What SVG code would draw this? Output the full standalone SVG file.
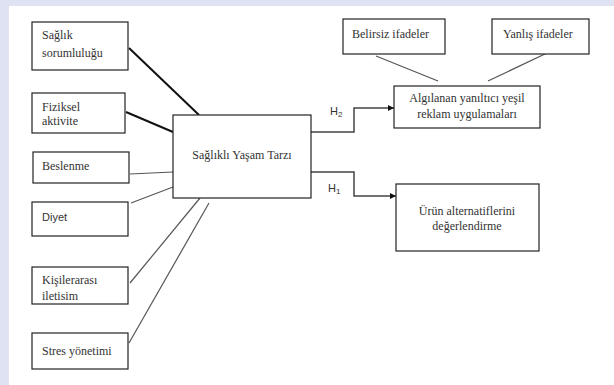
<svg xmlns="http://www.w3.org/2000/svg" width="614" height="385" viewBox="0 0 614 385">
<style>
.box{fill:#fff;stroke:#222;stroke-width:1.2}
text{font-family:'Liberation Serif','DejaVu Serif',serif;font-size:12px;fill:#333}
text.s{font-family:'Liberation Sans','DejaVu Sans',sans-serif;font-size:11px;fill:#333}
.c{text-anchor:middle}
.thick{stroke:#111;stroke-width:2;fill:none}
.thin{stroke:#555;stroke-width:1.2;fill:none}
.arr{stroke:#444;stroke-width:1.5;fill:none}
</style>
<defs>
<marker id="ah" viewBox="0 0 10 10" refX="10" refY="5" markerWidth="6" markerHeight="6" markerUnits="userSpaceOnUse" orient="auto">
<path d="M0,0 L10,5 L0,10 z" fill="#111"/>
</marker>
</defs>
<rect x="0" y="0" width="614" height="385" fill="#dfe2f2"/>
<rect x="9" y="6" width="605" height="379" fill="#fff"/>

<g id="connectors">
<line class="thick" x1="129" y1="48" x2="199" y2="115"/>
<line class="thick" x1="126" y1="112" x2="173" y2="132"/>
<line class="thin" x1="130" y1="174" x2="173" y2="172"/>
<line class="thin" x1="131" y1="203" x2="173" y2="187"/>
<line class="thin" x1="130" y1="283" x2="200" y2="198"/>
<line class="thin" x1="129" y1="343" x2="209" y2="203"/>
<line class="thin" x1="376" y1="56" x2="438" y2="81"/>
<line class="thin" x1="488" y1="81" x2="547" y2="53"/>
<polyline class="arr" points="311,132 354,132 354,108 394,108" marker-end="url(#ah)"/>
<polyline class="arr" points="311,172 354,172 354,196 396,196" marker-end="url(#ah)"/>
<text class="s" x="330" y="115">H<tspan font-size="8" dy="2">2</tspan></text>
<text class="s" x="328" y="192">H<tspan font-size="8" dy="2">1</tspan></text>
</g>

<g id="saglik-sorumlulugu">
<rect class="box" x="32" y="22" width="96" height="48"/>
<text x="42" y="39">Sağlık</text>
<text x="42" y="57">sorumluluğu</text>
</g>
<g id="fiziksel-aktivite">
<rect class="box" x="32" y="93" width="93" height="40"/>
<text x="42" y="111">Fiziksel</text>
<text x="42" y="125">aktivite</text>
</g>
<g id="beslenme">
<rect class="box" x="33" y="152" width="96" height="31"/>
<text x="42" y="170">Beslenme</text>
</g>
<g id="diyet">
<rect class="box" x="32" y="202" width="96" height="34"/>
<text class="s" x="42" y="221">Diyet</text>
</g>
<g id="kisilerarasi-iletisim">
<rect class="box" x="32" y="267" width="96" height="37"/>
<text x="42" y="284">Kişilerarası</text>
<text x="42" y="300">iletisim</text>
</g>
<g id="stres-yonetimi">
<rect class="box" x="32" y="333" width="96" height="36"/>
<text x="42" y="355">Stres yönetimi</text>
</g>
<g id="saglikli-yasam-tarzi">
<rect class="box" x="173" y="115" width="138" height="83"/>
<text class="c" x="242" y="159">Sağlıklı Yaşam Tarzı</text>
</g>
<g id="belirsiz-ifadeler">
<rect class="box" x="343" y="19" width="102" height="35"/>
<text x="352" y="38">Belirsiz ifadeler</text>
</g>
<g id="yanlis-ifadeler">
<rect class="box" x="492" y="19" width="97" height="35"/>
<text x="503" y="38">Yanlış ifadeler</text>
</g>
<g id="algilanan">
<rect class="box" x="394" y="86" width="146" height="42"/>
<text class="c" x="467" y="102">Algılanan yanıltıcı yeşil</text>
<text class="c" x="467" y="118">reklam uygulamaları</text>
</g>
<g id="urun-alternatifleri">
<rect class="box" x="396" y="184" width="143" height="67"/>
<text class="c" x="467" y="215">Ürün alternatiflerini</text>
<text class="c" x="467" y="230">değerlendirme</text>
</g>
</svg>
